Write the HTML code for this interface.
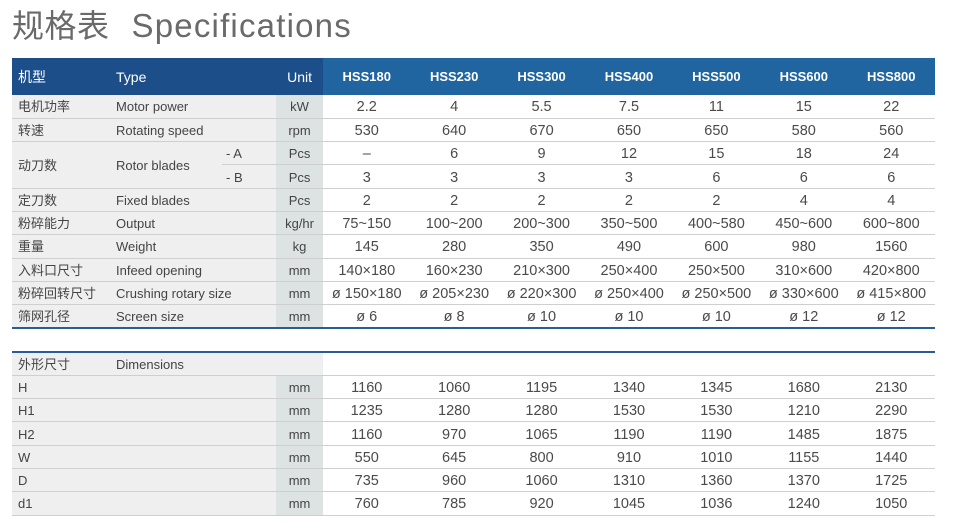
<!DOCTYPE html>
<html><head><meta charset="utf-8"><style>
*{margin:0;padding:0;box-sizing:border-box}
body{width:960px;height:530px;background:#fff;position:relative;overflow:hidden;font-family:"Liberation Sans","Noto Sans CJK SC",sans-serif;color:#444}
.title{position:absolute;left:12px;top:4px;font-size:32px;line-height:44px;color:#6a6a6a;white-space:nowrap;letter-spacing:0.5px}
.title .en{margin-left:22px;font-size:33px;letter-spacing:1.2px}
table{position:absolute;left:12px;border-collapse:collapse;table-layout:fixed;width:923px}
td{height:23.3px;font-size:13.5px;line-height:16px;border-bottom:1px solid #cfcfcf;white-space:nowrap;padding:2px 0 0 0;vertical-align:middle}
td.cn{background:#efefef;padding-left:6px;font-size:13px}
td.ty{background:#efefef;padding-left:6px;font-size:13px}
td.sb{background:#efefef;padding-left:4px;font-size:13px}
td.u{background:#dde3e3;text-align:center;font-size:13px}
td.d{text-align:center;font-size:14.5px;color:#4a4a4a}
tr.h td{height:37px;background:#1c4f8a;color:#fff;font-size:14px;border:none;padding-top:0}
tr.h td.d{background:#2064a0;font-weight:bold;font-size:13px;color:#fff}
#t1{top:58px;border-bottom:2px solid #2a5c96}
#t2{top:351px;border-top:2px solid #2a5c96}
</style></head><body>
<div class="title">规格表<span class="en">Specifications</span></div>
<table id="t1">
<colgroup><col style="width:98px"><col style="width:112px"><col style="width:54px"><col style="width:47px"><col span="7" style="width:87.4px"></colgroup>
<tr class="h"><td class="cn" style="background:#1c4f8a;font-size:14px">机型</td><td class="ty" style="background:#1c4f8a;font-size:14px">Type</td><td style="background:#1c4f8a"></td><td class="u" style="background:#1c4f8a;font-size:14px">Unit</td><td class="d">HSS180</td><td class="d">HSS230</td><td class="d">HSS300</td><td class="d">HSS400</td><td class="d">HSS500</td><td class="d">HSS600</td><td class="d">HSS800</td></tr>
<tr><td class="cn">电机功率</td><td class="ty" colspan="2">Motor power</td><td class="u">kW</td><td class="d">2.2</td><td class="d">4</td><td class="d">5.5</td><td class="d">7.5</td><td class="d">11</td><td class="d">15</td><td class="d">22</td></tr>
<tr><td class="cn">转速</td><td class="ty" colspan="2">Rotating speed</td><td class="u">rpm</td><td class="d">530</td><td class="d">640</td><td class="d">670</td><td class="d">650</td><td class="d">650</td><td class="d">580</td><td class="d">560</td></tr>
<tr><td class="cn" rowspan="2">动刀数</td><td class="ty" rowspan="2">Rotor blades</td><td class="sb">- A</td><td class="u">Pcs</td><td class="d">–</td><td class="d">6</td><td class="d">9</td><td class="d">12</td><td class="d">15</td><td class="d">18</td><td class="d">24</td></tr>
<tr><td class="sb">- B</td><td class="u">Pcs</td><td class="d">3</td><td class="d">3</td><td class="d">3</td><td class="d">3</td><td class="d">6</td><td class="d">6</td><td class="d">6</td></tr>
<tr><td class="cn">定刀数</td><td class="ty" colspan="2">Fixed blades</td><td class="u">Pcs</td><td class="d">2</td><td class="d">2</td><td class="d">2</td><td class="d">2</td><td class="d">2</td><td class="d">4</td><td class="d">4</td></tr>
<tr><td class="cn">粉碎能力</td><td class="ty" colspan="2">Output</td><td class="u">kg/hr</td><td class="d">75~150</td><td class="d">100~200</td><td class="d">200~300</td><td class="d">350~500</td><td class="d">400~580</td><td class="d">450~600</td><td class="d">600~800</td></tr>
<tr><td class="cn">重量</td><td class="ty" colspan="2">Weight</td><td class="u">kg</td><td class="d">145</td><td class="d">280</td><td class="d">350</td><td class="d">490</td><td class="d">600</td><td class="d">980</td><td class="d">1560</td></tr>
<tr><td class="cn">入料口尺寸</td><td class="ty" colspan="2">Infeed opening</td><td class="u">mm</td><td class="d">140×180</td><td class="d">160×230</td><td class="d">210×300</td><td class="d">250×400</td><td class="d">250×500</td><td class="d">310×600</td><td class="d">420×800</td></tr>
<tr><td class="cn">粉碎回转尺寸</td><td class="ty" colspan="2">Crushing rotary size</td><td class="u">mm</td><td class="d">ø 150×180</td><td class="d">ø 205×230</td><td class="d">ø 220×300</td><td class="d">ø 250×400</td><td class="d">ø 250×500</td><td class="d">ø 330×600</td><td class="d">ø 415×800</td></tr>
<tr><td class="cn" style="border-bottom:none">筛网孔径</td><td class="ty" colspan="2" style="border-bottom:none">Screen size</td><td class="u" style="border-bottom:none">mm</td><td class="d" style="border-bottom:none">ø 6</td><td class="d" style="border-bottom:none">ø 8</td><td class="d" style="border-bottom:none">ø 10</td><td class="d" style="border-bottom:none">ø 10</td><td class="d" style="border-bottom:none">ø 10</td><td class="d" style="border-bottom:none">ø 12</td><td class="d" style="border-bottom:none">ø 12</td></tr>
</table>
<table id="t2">
<colgroup><col style="width:98px"><col style="width:112px"><col style="width:54px"><col style="width:47px"><col span="7" style="width:87.4px"></colgroup>
<tr><td class="cn">外形尺寸</td><td class="ty" colspan="2">Dimensions</td><td class="u" style="background:#efefef"></td><td class="d" colspan="7"></td></tr>
<tr><td class="cn" colspan="3">H</td><td class="u">mm</td><td class="d">1160</td><td class="d">1060</td><td class="d">1195</td><td class="d">1340</td><td class="d">1345</td><td class="d">1680</td><td class="d">2130</td></tr>
<tr><td class="cn" colspan="3">H1</td><td class="u">mm</td><td class="d">1235</td><td class="d">1280</td><td class="d">1280</td><td class="d">1530</td><td class="d">1530</td><td class="d">1210</td><td class="d">2290</td></tr>
<tr><td class="cn" colspan="3">H2</td><td class="u">mm</td><td class="d">1160</td><td class="d">970</td><td class="d">1065</td><td class="d">1190</td><td class="d">1190</td><td class="d">1485</td><td class="d">1875</td></tr>
<tr><td class="cn" colspan="3">W</td><td class="u">mm</td><td class="d">550</td><td class="d">645</td><td class="d">800</td><td class="d">910</td><td class="d">1010</td><td class="d">1155</td><td class="d">1440</td></tr>
<tr><td class="cn" colspan="3">D</td><td class="u">mm</td><td class="d">735</td><td class="d">960</td><td class="d">1060</td><td class="d">1310</td><td class="d">1360</td><td class="d">1370</td><td class="d">1725</td></tr>
<tr><td class="cn" colspan="3">d1</td><td class="u">mm</td><td class="d">760</td><td class="d">785</td><td class="d">920</td><td class="d">1045</td><td class="d">1036</td><td class="d">1240</td><td class="d">1050</td></tr>
</table>
</body></html>
